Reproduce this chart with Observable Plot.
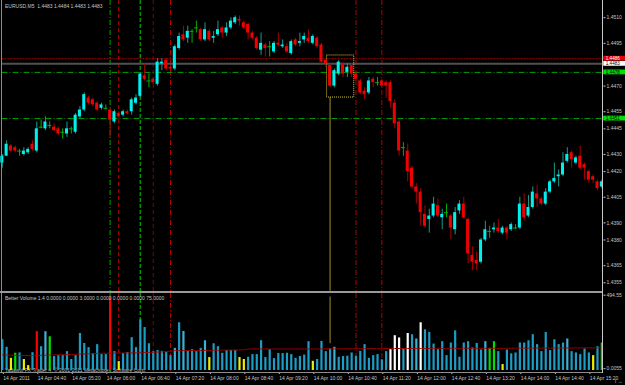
<!DOCTYPE html>
<html><head><meta charset="utf-8">
<script src="https://cdn.jsdelivr.net/npm/d3@7"></script>
<script src="https://cdn.jsdelivr.net/npm/@observablehq/plot@0.6"></script>
<style>
html,body{margin:0;padding:0;background:#000;}
#wrap{position:relative;width:625px;height:385px;background:#000;overflow:hidden;}
#wrap svg{display:block;}
.ln{position:absolute;}
</style></head><body>
<div id="wrap"></div>
<script>
// ---------- DATA (EURUSD M5, 14 Apr 2011, 04:00 .. 15:35) ----------
const opens = [
1.4425,1.4429,1.4435,1.4434,1.4432,1.4430,1.4431,1.4436,1.4432,1.4446,
1.4445,1.4447,1.4446,1.4445,1.4443,1.4442,1.4445,1.4443,1.4452,1.4456,
1.4463,1.4462,1.4460,1.4457,1.4457,1.4456,1.4449,1.4454,1.4453,1.4455,
1.4455,1.4460,1.4464,1.4476,1.4473,1.4474,1.4471,1.4483,1.4485,1.4481,
1.4480,1.4492,1.4500,1.4498,1.4502,1.4504,1.4503,1.4497,1.4502,1.4498,
1.4500,1.4504,1.4501,1.4504,1.4507,1.4509,1.4507,1.4506,1.4501,1.4498,
1.4491,1.4494,1.4493,1.4490,1.4495,1.4493,1.4493,1.4489,1.4497,1.4495,
1.4497,1.4498,1.4495,1.4498,1.4494,1.4485,1.4482,1.4470,1.4477,1.4483,
1.4478,1.4482,1.4477,1.4473,1.4467,1.4466,1.4474,1.4472,1.4473,1.4472,
1.4472,1.4460,1.4449,1.4434,1.4432,1.4422,1.4411,1.4408,1.4395,1.4392,
1.4394,1.4400,1.4393,1.4396,1.4394,1.4386,1.4397,1.4401,1.4392,1.4371,
1.4368,1.4367,1.4380,1.4385,1.4386,1.4387,1.4384,1.4387,1.4386,1.4387,
1.4387,1.4401,1.4394,1.4399,1.4407,1.4404,1.4401,1.4408,1.4414,1.4417,
1.4418,1.4426,1.4431,1.4425,1.4429,1.4424,1.4420,1.4417,1.4414,1.4411];
const highs = [
1.4430,1.4438,1.4436,1.4435,1.4433,1.4434,1.4434,1.4438,1.4449,1.4450,
1.4452,1.4449,1.4448,1.4446,1.4445,1.4449,1.4446,1.4454,1.4458,1.4466,
1.4464,1.4463,1.4461,1.4460,1.4459,1.4457,1.4456,1.4455,1.4456,1.4456,
1.4463,1.4465,1.4478,1.4483,1.4477,1.4475,1.4486,1.4486,1.4486,1.4482,
1.4494,1.4501,1.4505,1.4505,1.4503,1.4508,1.4504,1.4507,1.4503,1.4502,
1.4508,1.4505,1.4507,1.4510,1.4511,1.4511,1.4508,1.4507,1.4502,1.4499,
1.4501,1.4495,1.4496,1.4496,1.4501,1.4497,1.4495,1.4497,1.4498,1.4501,
1.4501,1.4503,1.4500,1.4499,1.4495,1.4486,1.4483,1.4480,1.4485,1.4484,
1.4483,1.4483,1.4478,1.4474,1.4469,1.4475,1.4475,1.4475,1.4474,1.4473,
1.4473,1.4462,1.4450,1.4437,1.4436,1.4423,1.4413,1.4410,1.4400,1.4398,
1.4405,1.4404,1.4398,1.4401,1.4395,1.4399,1.4403,1.4405,1.4393,1.4376,
1.4373,1.4381,1.4391,1.4388,1.4390,1.4392,1.4388,1.4388,1.4390,1.4389,
1.4405,1.4407,1.4406,1.4411,1.4412,1.4405,1.4410,1.4415,1.4425,1.4421,
1.4431,1.4434,1.4432,1.4429,1.4435,1.4425,1.4421,1.4418,1.4415,1.4415];
const lows = [
1.4422,1.4429,1.4431,1.4431,1.4429,1.4429,1.4430,1.4432,1.4431,1.4445,
1.4444,1.4445,1.4443,1.4441,1.4439,1.4440,1.4442,1.4442,1.4451,1.4455,
1.4459,1.4458,1.4455,1.4456,1.4456,1.4440,1.4448,1.4451,1.4452,1.4453,
1.4453,1.4459,1.4463,1.4473,1.4469,1.4471,1.4470,1.4479,1.4479,1.4479,
1.4479,1.4491,1.4496,1.4495,1.4495,1.4501,1.4496,1.4496,1.4496,1.4495,
1.4499,1.4498,1.4499,1.4503,1.4506,1.4505,1.4503,1.4497,1.4497,1.4491,
1.4488,1.4487,1.4487,1.4489,1.4493,1.4492,1.4489,1.4488,1.4493,1.4493,
1.4495,1.4495,1.4494,1.4492,1.4483,1.4481,1.4469,1.4469,1.4476,1.4475,
1.4475,1.4475,1.4473,1.4465,1.4462,1.4465,1.4469,1.4470,1.4469,1.4463,
1.4457,1.4445,1.4429,1.4429,1.4414,1.4410,1.4401,1.4388,1.4387,1.4384,
1.4393,1.4393,1.4386,1.4393,1.4380,1.4383,1.4395,1.4392,1.4366,1.4362,
1.4362,1.4366,1.4379,1.4381,1.4384,1.4384,1.4383,1.4380,1.4385,1.4386,
1.4386,1.4391,1.4393,1.4398,1.4399,1.4400,1.4400,1.4407,1.4413,1.4411,
1.4417,1.4425,1.4422,1.4424,1.4421,1.4415,1.4413,1.4413,1.4409,1.4410];
const closes = [
1.4429,1.4436,1.4432,1.4432,1.4432,1.4432,1.4433,1.4433,1.4445,1.4446,
1.4449,1.4447,1.4444,1.4442,1.4443,1.4445,1.4445,1.4453,1.4456,1.4465,
1.4460,1.4459,1.4456,1.4459,1.4457,1.4450,1.4455,1.4452,1.4455,1.4454,
1.4462,1.4463,1.4477,1.4474,1.4473,1.4472,1.4484,1.4484,1.4480,1.4480,
1.4493,1.4499,1.4497,1.4502,1.4502,1.4504,1.4497,1.4503,1.4497,1.4499,
1.4503,1.4501,1.4504,1.4508,1.4510,1.4508,1.4504,1.4501,1.4498,1.4492,
1.4495,1.4492,1.4493,1.4495,1.4494,1.4494,1.4490,1.4496,1.4494,1.4496,
1.4499,1.4496,1.4499,1.4493,1.4484,1.4483,1.4470,1.4479,1.4484,1.4477,
1.4481,1.4477,1.4474,1.4466,1.4465,1.4473,1.4472,1.4472,1.4470,1.4470,
1.4461,1.4448,1.4432,1.4434,1.4420,1.4411,1.4408,1.4396,1.4388,1.4394,
1.4401,1.4394,1.4395,1.4396,1.4387,1.4396,1.4401,1.4393,1.4372,1.4367,
1.4366,1.4380,1.4386,1.4385,1.4387,1.4385,1.4387,1.4384,1.4389,1.4387,
1.4401,1.4393,1.4399,1.4408,1.4404,1.4401,1.4408,1.4414,1.4416,1.4418,
1.4425,1.4430,1.4427,1.4428,1.4422,1.4422,1.4415,1.4415,1.4410,1.4414];

const volumes = [
207,156,82,116,118,74,33,120,261,160,
261,227,94,100,100,127,74,100,249,182,
154,114,174,107,107,494.55,127,60,114,120,
221,154,341,289,180,127,134,129,122,100,
149,321,263,129,140,127,149,200,87,180,
160,116,134,134,134,87,74,89,107,107,
200,87,140,80,114,114,116,107,82,94,
104,194,62,74,196,127,147,156,89,94,
96,118,96,129,174,82,100,107,72,127,
140,234,219,145,249,241,212,321,274,256,
178,140,194,100,185,267,89,185,194,152,
182,138,194,149,194,127,40,138,112,118,
185,185,200,241,174,127,256,134,207,174,
185,212,127,118,107,145,118,100,160,185];
// Better Volume classification: b normal, d normal(alt), y low, g churn, r climax, w climax-churn
const volTypes = (
"bbygbyybrb" + "dgbbbbbbbb" + "bbbbbrbybb" + "bbbbbbbbbb" + "dbdbbbbdyb" +
"bbbbbyybbb" + "bbbbbbbbbb" + "bbybbbbdbb" + "bbbbbbbbbb" + "wwwbwbdwbb" +
"bbbbbbbbbb" + "bbdggbybbb" + "bbbbbbbbbb" + "bdbbbbbybg").split("");
const volMA = [
105,104,103,102,101,101,100,100,101,102,
103,104,105,106,107,107,108,109,110,111,
112,113,115,116,116,117,117,117,118,118,
118,119,120,121,122,123,124,125,127,130,
134,134,134,134,134,134,134,135,135,136,
136,137,137,138,138,138,139,145,145,145,
145,145,145,145,145,145,145,145,145,145,
145,145,145,145,146,146,146,146,146,146,
146,147,147,147,147,147,147,147,147,148,
148,148,148,148,148,148,148,148,148,148,
149,149,149,149,149,149,149,149,149,149,
149,149,149,149,149,149,149,150,150,150,
150,150,150,150,151,151,151,151,151,151,
151,151,151,152,152,152,152,152,152,152];

const priceTicks = [1.4510,1.4495,1.4470,1.4455,1.4445,1.4430,1.4420,1.4405,1.4390,1.4380,1.4365,1.4355];
const volTicks = [494.55, 0.0055];
const volTickLabels = ["494.55","0.0055"];
const timeTickIdx = [0,8,16,24,32,40,48,56,64,72,80,88,96,104,112,120,128,136];
const timeTickLabels = ["14 Apr 2011","14 Apr 04:40","14 Apr 05:20","14 Apr 06:00","14 Apr 06:40","14 Apr 07:20",
 "14 Apr 08:00","14 Apr 08:40","14 Apr 09:20","14 Apr 10:00","14 Apr 10:40","14 Apr 11:20","14 Apr 12:00",
 "14 Apr 12:40","14 Apr 13:20","14 Apr 14:00","14 Apr 14:40","14 Apr 15:20"];

const vLineIdx  = [25, 27, 32, 35, 39, 82, 88];
const vLineKind = ["g", "r", "g2", "dr", "rd", "rd", "rd"];
const hLinePrice = [1.4486, 1.4483, 1.4478, 1.4451];
const hLineKind  = ["ask", "bid", "g", "g"];
const boxIdx = [75.3, 81.6];          // yellow rectangle (bar positions)
const boxPrice = [1.44633, 1.44879];  // yellow rectangle price range
const markerIdx = 76;                  // yellow vertical marker
const markerVolEnd = 180;

const titleText = "EURUSD,M5  1.4483 1.4484 1.4483 1.4483";
const volTitle = "Better Volume 1.4 0.0000 0.0000 3.0000 0.0000 0.0000 0.0000 75.0000";
const footer = "Tadawul FX Trader 4, \u00A9 2001-2011 MetaQuotes Software Corp.";

// ---------- BUILD ----------
const FONT = "'Liberation Sans', Arial, sans-serif";
const TXT = "#c4c4c4";
const candles = opens.map((o, i) => ({i, o, h: highs[i], l: lows[i], c: closes[i]}));
const bodies = candles.filter(d => d.o !== d.c);
const dojis = candles.filter(d => d.o === d.c);
const vol = volumes.map((v, i) => ({i, v, t: volTypes[i], ma: volMA[i]}));
const volColor = {b: "#1c9dc6", d: "#3fb0d2", y: "#eeee00", g: "#00e000", r: "#ff0000", w: "#ffffff"};

const vStyles = {
  g:  {stroke: "#00a000", strokeDasharray: "5,2,1,2", strokeWidth: 1},
  r:  {stroke: "#c80000", strokeDasharray: "4,3", strokeWidth: 1},
  g2: {stroke: "#009000", strokeDasharray: "4,2", strokeWidth: 1.5},
  dr: {stroke: "#8c0000", strokeDasharray: "4,3", strokeWidth: 1},
  rd: {stroke: "#b00000", strokeDasharray: "5,2,1,2", strokeWidth: 1}
};
const vlines = vLineIdx.map((i, k) => ({i, kind: vLineKind[k]}));
function vLineMarks() {
  return Object.keys(vStyles).map(k =>
    Plot.ruleX(vlines.filter(d => d.kind === k), {x: "i", ...vStyles[k]}));
}
const hlines = hLinePrice.map((p, k) => ({p, kind: hLineKind[k]}));
const tags = [
  {p: hLinePrice[0], bg: "#e00000", fg: "#ffffff"},
  {p: hLinePrice[1], bg: "#ffffff", fg: "#000000"},
  {p: hLinePrice[2], bg: "#00e000", fg: "#000000"},
  {p: hLinePrice[3], bg: "#00e000", fg: "#000000"}
];

const X = {type: "linear", domain: [0, 139], range: [1.8, 601.3], axis: null};

const main = Plot.plot({
  width: 625, height: 291,
  marginLeft: 1.5, marginRight: 22.5, marginTop: 0, marginBottom: 0,
  x: X,
  y: {type: "linear", domain: [1.4350, 1.4518], range: [290.8, 3.5], axis: null},
  color: {type: "identity"},
  style: {background: "#000", color: TXT, fontFamily: FONT, fontSize: "5px", overflow: "visible"},
  marks: [
    ...vLineMarks(),
    Plot.ruleY(hlines.filter(d => d.kind === "g"), {y: "p", stroke: "#00a000", strokeDasharray: "6,2,1,2"}),
    Plot.ruleY(hlines.filter(d => d.kind === "ask"), {y: "p", stroke: "#b00000", strokeDasharray: "2,1"}),
    Plot.ruleY(hlines.filter(d => d.kind === "bid"), {y: "p", stroke: "#505050", strokeWidth: 2}),
    Plot.rect([{}], {x1: boxIdx[0], x2: boxIdx[1], y1: boxPrice[0], y2: boxPrice[1],
      fill: "none", stroke: "#d8c830", strokeDasharray: "1,1"}),
    Plot.ruleX([markerIdx], {x: d => d, y1: boxPrice[0], y2: 1.4350, stroke: "#c8b830", strokeWidth: 0.8}),
    Plot.ruleX(candles, {x: "i", y1: "l", y2: "h",
      stroke: d => d.o === d.c ? "#00b000" : (d.c > d.o ? "#1a9a8c" : "#a80000"), strokeWidth: 1}),
    Plot.rect(bodies, {x1: d => d.i - 0.35, x2: d => d.i + 0.35, y1: "o", y2: "c",
      fill: d => d.c > d.o ? "#00f0f0" : "#f00000"}),
    Plot.ruleY(dojis, {y: "o", x1: d => d.i - 0.45, x2: d => d.i + 0.45, stroke: "#00b000"}),
    Plot.axisY(priceTicks, {anchor: "right", tickSize: 2, tickPadding: 1.5,
      tickFormat: d => d.toFixed(4), fontSize: 5, stroke: TXT, fill: TXT}),
    Plot.rect(tags, {x1: 139.45, x2: 146, y1: d => d.p - 0.00014, y2: d => d.p + 0.00014, fill: "bg"}),
    Plot.text(tags, {x: 139.45, y: "p", dx: 2, text: d => d.p.toFixed(4), textAnchor: "start",
      fill: "fg", fontSize: 4.6}),
    Plot.text([titleText], {frameAnchor: "top-left", dx: 3, dy: 3.5, text: d => d, fill: TXT, fontSize: 5})
  ]
});

const volPlot = Plot.plot({
  width: 625, height: 94,
  marginLeft: 1.5, marginRight: 22.5, marginTop: 2, marginBottom: 13,
  x: X,
  y: {type: "linear", domain: [0, 494.55], range: [79, 5.5], axis: null},
  color: {type: "identity"},
  style: {background: "#000", color: TXT, fontFamily: FONT, fontSize: "5px", overflow: "visible"},
  marks: [
    Plot.text([footer], {frameAnchor: "bottom-left", dx: 3, dy: -1, text: d => d, fill: "#b8b8b8", fontSize: 5}),
    ...vLineMarks(),
    Plot.ruleX([markerIdx], {x: d => d, y1: markerVolEnd, y2: volTicks[0], stroke: "#c8b830", strokeWidth: 0.8}),
    Plot.ruleX(vol, {x: "i", y1: 0, y2: "v", stroke: d => volColor[d.t], strokeWidth: 2.2}),
    Plot.line(vol, {x: "i", y: "ma", stroke: "#a00000", strokeWidth: 1, strokeDasharray: "2,1"}),
    Plot.axisY(volTicks, {anchor: "right", tickSize: 2, tickPadding: 1.5, dy: -1.8,
      tickFormat: d => volTickLabels[volTicks.indexOf(d)], fontSize: 5, stroke: TXT, fill: TXT}),
    Plot.axisX(timeTickIdx, {anchor: "bottom", tickSize: 2, tickPadding: 2.2, textAnchor: "start", dx: 1,
      tickFormat: d => timeTickLabels[timeTickIdx.indexOf(d)], fontSize: 5, stroke: TXT, fill: TXT}),
    Plot.text([volTitle], {frameAnchor: "top-left", dx: 3, dy: 2.5, text: d => d, fill: TXT, fontSize: 5})
  ]
});

const wrap = document.getElementById("wrap");
wrap.appendChild(main);
wrap.appendChild(volPlot);
// window chrome (borders / separators)
[
  {l: 1, t: 0, w: 1, h: 373, c: "#8c8c8c"},
  {l: 0, t: 291, w: 603, h: 2, c: "#9a9a9a"},
  {l: 0, t: 372, w: 603, h: 1, c: "#8c8c8c"},
  {l: 602, t: 0, w: 1, h: 373, c: "#c8c8c8"}
].forEach(s => {
  const d = document.createElement("div");
  d.className = "ln";
  Object.assign(d.style, {left: s.l + "px", top: s.t + "px", width: s.w + "px", height: s.h + "px", background: s.c});
  wrap.appendChild(d);
});
</script>
</body></html>
